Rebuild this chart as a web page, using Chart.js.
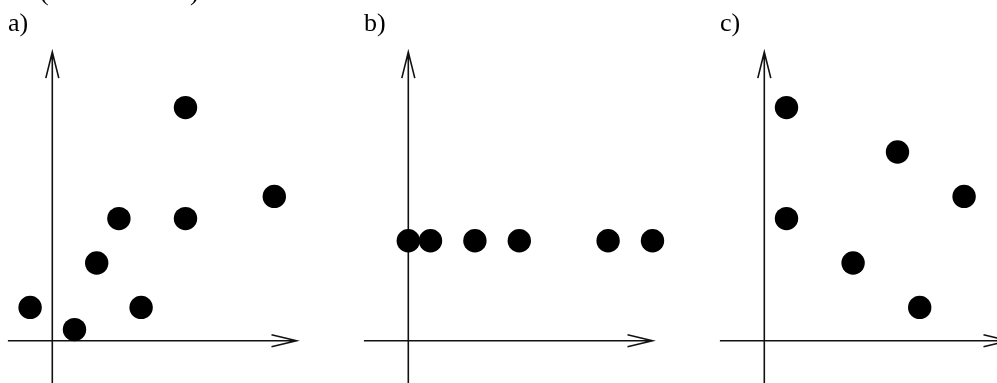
<!DOCTYPE html>
<html>
<head>
<meta charset="utf-8">
<script src="https://cdn.jsdelivr.net/npm/chart.js@4/dist/chart.umd.min.js"></script>
<style>
  html, body { margin: 0; padding: 0; background: #fff; overflow: hidden; width: 997px; height: 383px; }
  canvas { position: absolute; top: 0; }
</style>
</head>
<body>
<canvas id="ca" width="356" height="383" style="left:0px"></canvas>
<canvas id="cb" width="356" height="383" style="left:356px"></canvas>
<canvas id="cc" width="356" height="383" style="left:712px"></canvas>
<script>
// ---- data ----
const panelLabels = ["a)", "b)", "c)"];

const aX = [-1, 1, 2, 3, 4, 6, 6, 10];
const aY = [1.5, 0.5, 3.5, 5.5, 1.5, 10.5, 5.5, 6.5];

const bX = [0, 1, 3, 5, 9, 11];
const bY = [4.5, 4.5, 4.5, 4.5, 4.5, 4.5];

const cX = [1, 1, 6, 4, 9, 7];
const cY = [10.5, 5.5, 8.5, 3.5, 6.5, 1.5];

const axisXRange = [-2, 11];
const axisYRange = [-2, 13];

// ---- layout ----
const W = 356, H = 383;
const UNIT = 22.2;          // pixels per unit
const OX = 52.3, OY = 340.7; // origin inside each canvas

function axesPlugin(label, extra) {
  return {
    id: 'axes_' + label,
    beforeDatasetsDraw(chart) {
      const ctx = chart.ctx;
      const xs = chart.scales.x, ys = chart.scales.y;
      const x0 = xs.getPixelForValue(0), y0 = ys.getPixelForValue(0);
      const xa = xs.getPixelForValue(axisXRange[0]), xb = xs.getPixelForValue(axisXRange[1]);
      const ya = ys.getPixelForValue(axisYRange[0]), yb = ys.getPixelForValue(axisYRange[1]);
      ctx.save();
      ctx.strokeStyle = '#111';
      ctx.lineWidth = 1.6;
      ctx.lineCap = 'butt';
      ctx.beginPath();
      ctx.moveTo(xa, y0); ctx.lineTo(xb, y0);
      ctx.moveTo(xb - 25, y0 - 6); ctx.lineTo(xb, y0); ctx.lineTo(xb - 25, y0 + 6);
      ctx.moveTo(x0, ya); ctx.lineTo(x0, yb);
      ctx.moveTo(x0 - 6.5, yb + 26); ctx.lineTo(x0, yb); ctx.lineTo(x0 + 6.5, yb + 26);
      ctx.stroke();
      ctx.restore();
    },
    afterDraw(chart) {
      const ctx = chart.ctx;
      ctx.save();
      ctx.fillStyle = '#000';
      ctx.font = '26px "Liberation Serif", "DejaVu Serif", serif';
      ctx.textBaseline = 'alphabetic';
      ctx.fillText(label, 8, 31);
      if (extra) {
        ctx.fillText('(', 40, 0);
        ctx.fillText(')', 190, 0);
      }
      ctx.restore();
    }
  };
}

function makeChart(id, xsArr, ysArr, label, extra) {
  const pts = xsArr.map((x, i) => ({ x: x, y: ysArr[i] }));
  return new Chart(document.getElementById(id), {
    type: 'scatter',
    data: {
      datasets: [{
        data: pts,
        pointRadius: 11.7,
        pointHoverRadius: 11.7,
        pointBorderWidth: 0,
        backgroundColor: '#000',
        borderColor: '#000',
        clip: false
      }]
    },
    options: {
      responsive: false,
      animation: false,
      devicePixelRatio: 1,
      layout: { padding: 0, autoPadding: false },
      events: [],
      plugins: { legend: { display: false }, tooltip: { enabled: false }, title: { display: false } },
      scales: {
        x: { type: 'linear', display: false, min: -OX / UNIT, max: (W - OX) / UNIT },
        y: { type: 'linear', display: false, min: -(H - OY) / UNIT, max: OY / UNIT }
      }
    },
    plugins: [axesPlugin(label, extra)]
  });
}

makeChart('ca', aX, aY, panelLabels[0], true);
makeChart('cb', bX, bY, panelLabels[1], false);
makeChart('cc', cX, cY, panelLabels[2], false);
</script>
</body>
</html>
